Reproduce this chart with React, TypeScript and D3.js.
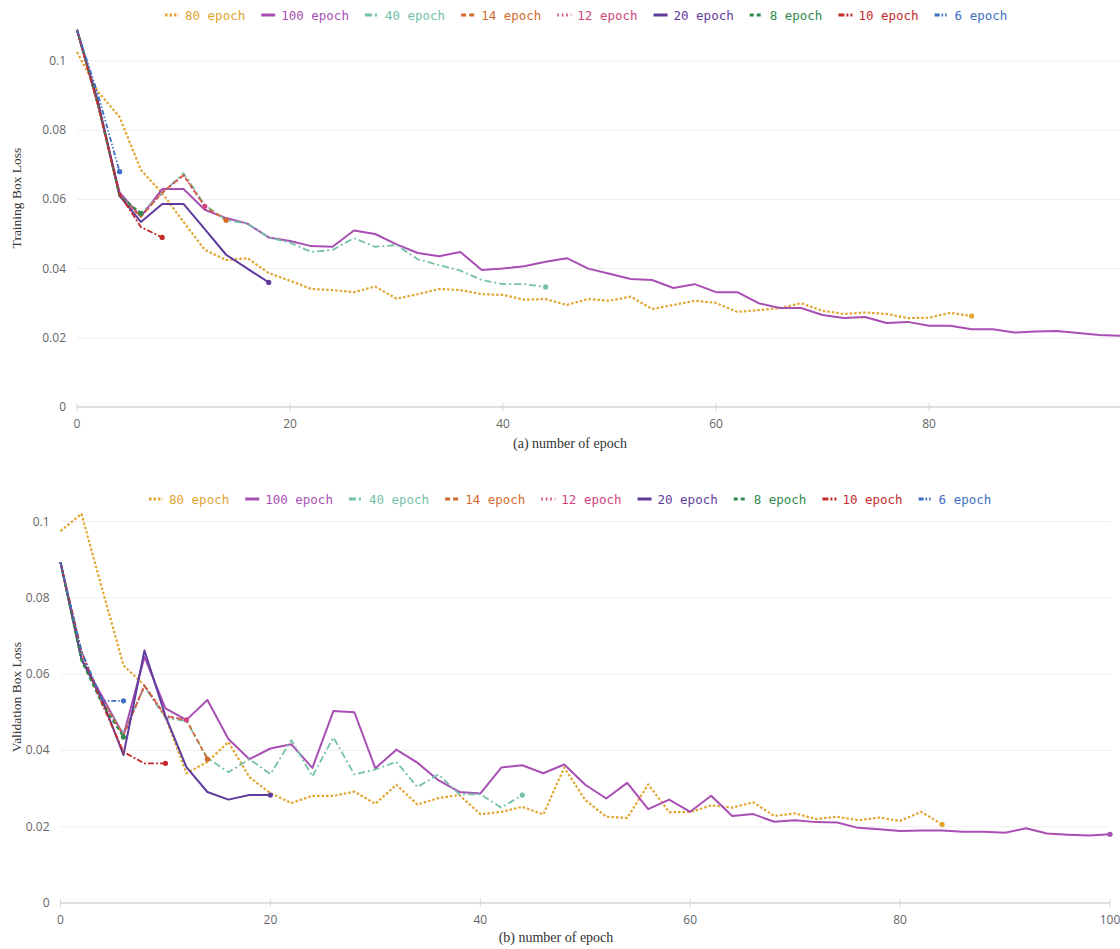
import React from "react";
import * as d3 from "d3";

const EPOCH_STEP = 2;

const seriesNames = ["80 epoch", "100 epoch", "40 epoch", "14 epoch", "12 epoch", "20 epoch", "8 epoch", "10 epoch", "6 epoch"];
const seriesColors = ["#E2A530", "#A84FB4", "#74C1A9", "#D36B2D", "#D0457E", "#5E3B9C", "#2F8A4C", "#C42B2B", "#3C6EC3"];
const seriesDash = ["2.5,2", "", "7,3,2,3", "5,3", "1.5,3", "", "4,3", "6,2,2,2", "5,2,1.5,2,1.5,2"];
const seriesWidth = [2.2, 2, 1.8, 1.8, 2, 2, 2, 1.8, 1.8];

const xTicks = [0, 20, 40, 60, 80, 100];
const yTicks = [0, 0.02, 0.04, 0.06, 0.08, 0.1];
const yTickLabels = ["0", "0.02", "0.04", "0.06", "0.08", "0.1"];

// Training box loss
const trainLoss80 = [0.1026, 0.091, 0.0838, 0.0685, 0.0618, 0.0535, 0.0454, 0.0425, 0.043, 0.0387, 0.0365, 0.0341, 0.0338, 0.0332, 0.0348, 0.0313, 0.0326, 0.0341, 0.0338, 0.0326, 0.0324, 0.031, 0.0312, 0.0295, 0.0312, 0.0307, 0.0319, 0.0283, 0.0295, 0.0307, 0.0301, 0.0275, 0.028, 0.0286, 0.030, 0.0278, 0.0269, 0.0273, 0.0269, 0.0257, 0.0258, 0.0272, 0.0263];
const trainLoss100 = [0.109, 0.087, 0.062, 0.055, 0.063, 0.063, 0.057, 0.0546, 0.053, 0.049, 0.048, 0.0465, 0.0463, 0.051, 0.050, 0.047, 0.0445, 0.0436, 0.0448, 0.0396, 0.040, 0.0407, 0.042, 0.043, 0.040, 0.0385, 0.037, 0.0367, 0.0344, 0.0355, 0.0332, 0.0332, 0.030, 0.0286, 0.0286, 0.0266, 0.0257, 0.026, 0.0243, 0.0246, 0.0235, 0.0235, 0.0225, 0.0225, 0.0215, 0.0218, 0.022, 0.0214, 0.0208, 0.0206, 0.0205];
const trainLoss40 = [0.109, 0.087, 0.061, 0.056, 0.0618, 0.0676, 0.0584, 0.054, 0.053, 0.049, 0.0475, 0.0448, 0.0454, 0.0488, 0.0463, 0.0468, 0.0427, 0.041, 0.0394, 0.0367, 0.0355, 0.0355, 0.0347];
const trainLoss14 = [0.109, 0.087, 0.061, 0.055, 0.062, 0.067, 0.058, 0.054];
const trainLoss12 = [0.109, 0.087, 0.061, 0.055, 0.062, 0.067, 0.058];
const trainLoss20 = [0.109, 0.088, 0.061, 0.0535, 0.0587, 0.0587, 0.0514, 0.044, 0.040, 0.036];
const trainLoss8 = [0.109, 0.087, 0.061, 0.056];
const trainLoss10 = [0.109, 0.087, 0.0615, 0.052, 0.049];
const trainLoss6 = [0.109, 0.09, 0.068];

// Validation box loss
const valLoss80 = [0.0975, 0.102, 0.082, 0.0623, 0.057, 0.0488, 0.034, 0.037, 0.0422, 0.033, 0.0288, 0.0262, 0.0281, 0.0281, 0.0292, 0.026, 0.031, 0.0258, 0.0275, 0.0283, 0.0233, 0.0239, 0.0252, 0.0232, 0.0355, 0.027, 0.0226, 0.0223, 0.0311, 0.0238, 0.0238, 0.0256, 0.025, 0.0264, 0.0228, 0.0235, 0.022, 0.0226, 0.0217, 0.0224, 0.0215, 0.0239, 0.0206];
const valLoss100 = [0.0893, 0.0638, 0.054, 0.044, 0.0645, 0.051, 0.048, 0.0532, 0.043, 0.0377, 0.0405, 0.0416, 0.0354, 0.0503, 0.05, 0.0353, 0.0402, 0.0368, 0.0322, 0.0291, 0.0287, 0.0355, 0.0361, 0.034, 0.0363, 0.031, 0.0274, 0.0315, 0.0246, 0.0271, 0.0239, 0.0281, 0.0228, 0.0233, 0.0213, 0.0217, 0.0212, 0.0211, 0.0197, 0.0193, 0.0189, 0.019, 0.019, 0.0187, 0.0187, 0.0184, 0.0196, 0.0182, 0.0179, 0.0177, 0.018];
const valLoss40 = [0.0893, 0.064, 0.053, 0.0445, 0.0567, 0.0485, 0.0477, 0.038, 0.0343, 0.0377, 0.0338, 0.0427, 0.0332, 0.0434, 0.0337, 0.035, 0.037, 0.0304, 0.0337, 0.0285, 0.0285, 0.025, 0.0283];
const valLoss14 = [0.0893, 0.064, 0.053, 0.044, 0.057, 0.049, 0.048, 0.0377];
const valLoss12 = [0.0893, 0.0645, 0.053, 0.044, 0.057, 0.049, 0.048];
const valLoss20 = [0.0893, 0.064, 0.053, 0.0388, 0.0662, 0.049, 0.0356, 0.0291, 0.0271, 0.0283, 0.0283];
const valLoss8 = [0.0893, 0.0635, 0.052, 0.0435];
const valLoss10 = [0.0893, 0.066, 0.052, 0.0396, 0.0366, 0.0366];
const valLoss6 = [0.0893, 0.066, 0.053, 0.053];

const trainSeries = [trainLoss80, trainLoss100, trainLoss40, trainLoss14, trainLoss12, trainLoss20, trainLoss8, trainLoss10, trainLoss6];
const valSeries = [valLoss80, valLoss100, valLoss40, valLoss14, valLoss12, valLoss20, valLoss8, valLoss10, valLoss6];

const MONO = "'DejaVu Sans Mono', monospace";
const SANS = "'Open Sans', 'Noto Sans', sans-serif";
const SERIF = "'Liberation Serif', 'Times New Roman', serif";

type PanelProps = {
  data: number[][];
  x0: number;
  x1: number;
  y0: number;
  yTop: number;
  legendX: number;
  legendY: number;
  xTitle: string;
  xTitleX: number;
  xTitleY: number;
  yTitle: string;
  yTitleY: number;
  clipRight: number;
  id: string;
};

function Legend({ x, y }: { x: number; y: number }) {
  const charW = 7.525;
  let cx = x;
  const items = seriesNames.map((name, i) => {
    const start = cx;
    cx += 14 + 6 + name.length * charW + 16;
    return (
      <g key={name}>
        <line
          x1={start}
          x2={start + 14}
          y1={y}
          y2={y}
          stroke={seriesColors[i]}
          strokeWidth={3}
          strokeDasharray={seriesDash[i] || undefined}
        />
        <text x={start + 20} y={y + 4.5} fontFamily={MONO} fontSize={12.5} fill={seriesColors[i]}>
          {name}
        </text>
      </g>
    );
  });
  return <g>{items}</g>;
}

function Panel(p: PanelProps) {
  const x = d3.scaleLinear().domain([0, 100]).range([p.x0, p.x1]);
  const y = d3.scaleLinear().domain([0, 0.1]).range([p.y0, p.yTop]);
  const line = d3
    .line<number>()
    .x((_, i) => x(i * EPOCH_STEP))
    .y((d) => y(d));
  const right = Math.min(p.x1, p.clipRight);
  return (
    <g>
      <defs>
        <clipPath id={p.id}>
          <rect x={0} y={0} width={p.clipRight} height={949} />
        </clipPath>
      </defs>
      {yTicks.map((t, i) => (
        <g key={"y" + t}>
          {t > 0 && <line x1={p.x0} x2={right} y1={y(t)} y2={y(t)} stroke="#efefef" strokeWidth={1} />}
          <text x={p.x0 - 11} y={y(t) + 4} textAnchor="end" fontFamily={SANS} fontSize={12} fill="#666">
            {yTickLabels[i]}
          </text>
        </g>
      ))}
      <line x1={p.x0} x2={right} y1={p.y0} y2={p.y0} stroke="#d4d4d4" strokeWidth={1.5} />
      {xTicks.map((t) =>
        x(t) <= p.clipRight ? (
          <g key={"x" + t}>
            <line x1={x(t)} x2={x(t)} y1={p.y0 - 4} y2={p.y0 + 4} stroke="#d4d4d4" strokeWidth={1} />
            <text x={x(t)} y={p.y0 + 21} textAnchor="middle" fontFamily={SANS} fontSize={12} fill="#666">
              {t}
            </text>
          </g>
        ) : null
      )}
      <g clipPath={`url(#${p.id})`}>
        {p.data.map((s, i) => (
          <g key={"s" + i}>
            <path
              d={line(s) || ""}
              fill="none"
              stroke={seriesColors[i]}
              strokeWidth={seriesWidth[i]}
              strokeDasharray={seriesDash[i] || undefined}
              strokeLinejoin="round"
            />
            <circle cx={x((s.length - 1) * EPOCH_STEP)} cy={y(s[s.length - 1])} r={2.6} fill={seriesColors[i]} />
          </g>
        ))}
      </g>
      <Legend x={p.legendX} y={p.legendY} />
      <text x={p.xTitleX} y={p.xTitleY} textAnchor="middle" fontFamily={SERIF} fontSize={14} fill="#333">
        {p.xTitle}
      </text>
      <text
        transform={`translate(21, ${p.yTitleY}) rotate(-90)`}
        textAnchor="middle"
        fontFamily={SERIF}
        fontSize={13.5}
        fill="#333"
      >
        {p.yTitle}
      </text>
    </g>
  );
}

export default function App() {
  return (
    <>
      <style>{"body{margin:0;background:#fff;}"}</style>
      <svg width={1120} height={949} style={{ display: "block" }}>
        <rect x={0} y={0} width={1120} height={949} fill="#fff" />
        <Panel
          id="clipTop"
          data={trainSeries}
          x0={77}
          x1={1142}
          y0={407}
          yTop={61}
          legendX={165}
          legendY={15}
          xTitle="(a) number of epoch"
          xTitleX={570}
          xTitleY={448}
          yTitle="Training Box Loss"
          yTitleY={198}
          clipRight={1120}
        />
        <Panel
          id="clipBot"
          data={valSeries}
          x0={60.5}
          x1={1110}
          y0={903}
          yTop={521.5}
          legendX={149}
          legendY={499}
          xTitle="(b) number of epoch"
          xTitleX={556}
          xTitleY={942}
          yTitle="Validation Box Loss"
          yTitleY={697}
          clipRight={1120}
        />
      </svg>
    </>
  );
}
